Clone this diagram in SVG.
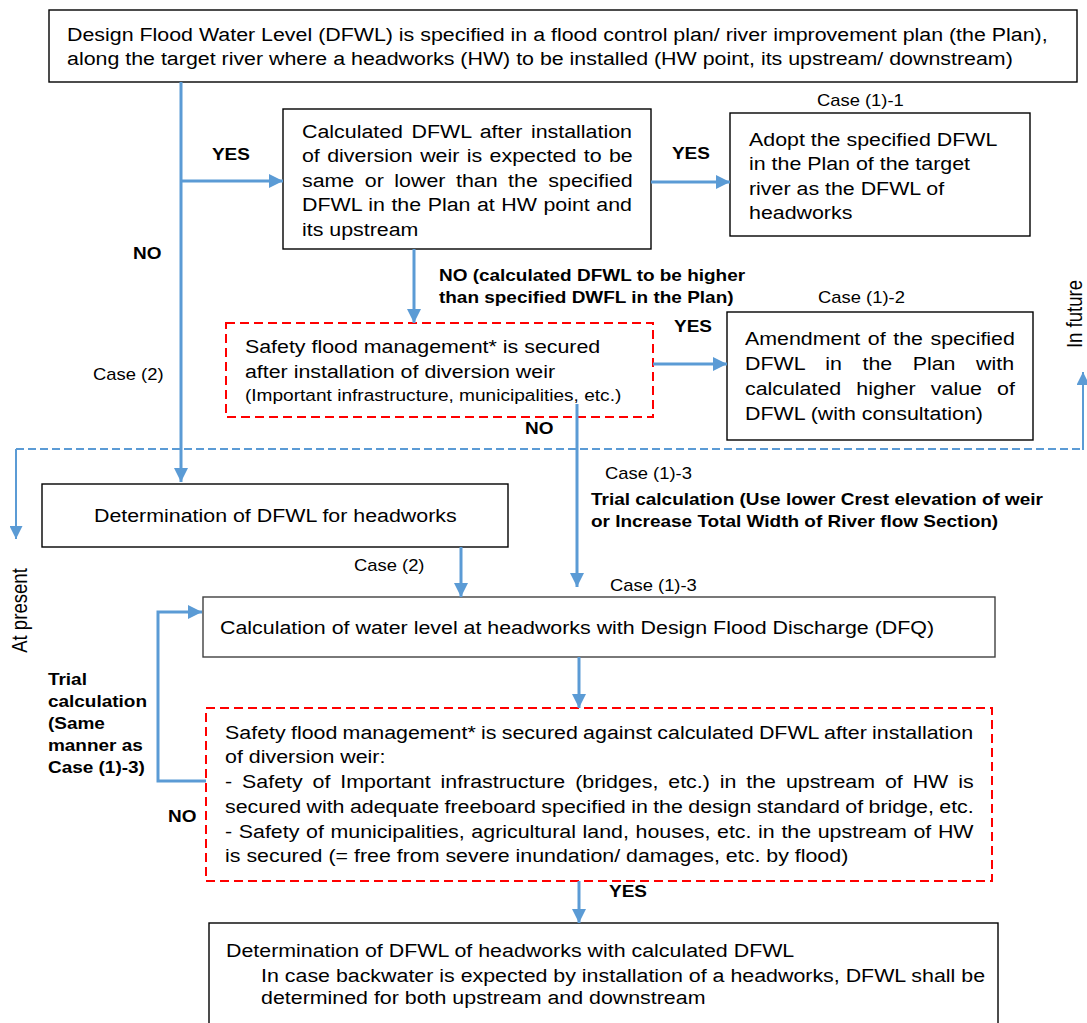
<svg xmlns="http://www.w3.org/2000/svg" width="1087" height="1023" viewBox="0 0 1087 1023">
<defs>
<style>
.box{fill:#fff;stroke:#000;stroke-width:1.4}
.rbox{fill:#fff;stroke:#FF0000;stroke-width:2;stroke-dasharray:9 5}
.t{font-family:"Liberation Sans",Arial,sans-serif;font-size:18.6px;fill:#000}
.s{font-family:"Liberation Sans",Arial,sans-serif;font-size:16.6px;fill:#000}
.c{font-family:"Liberation Sans",Arial,sans-serif;font-size:16px;fill:#000}
.b{font-family:"Liberation Sans",Arial,sans-serif;font-size:16.5px;font-weight:bold;fill:#000}
.ln{fill:none;stroke:#5B9BD5;stroke-width:3}
.ln2{fill:none;stroke:#5B9BD5;stroke-width:2}
.dash{fill:none;stroke:#5B9BD5;stroke-width:2;stroke-dasharray:8 4}
</style>
<marker id="ah" markerUnits="userSpaceOnUse" markerWidth="14" markerHeight="14" refX="14" refY="7" orient="auto" viewBox="0 0 14 14"><path d="M0,0 L14,7 L0,14 z" fill="#5B9BD5"/></marker>
<marker id="ah2" markerUnits="userSpaceOnUse" markerWidth="13" markerHeight="13" refX="13" refY="6.5" orient="auto" viewBox="0 0 13 13"><path d="M0,0 L13,6.5 L0,13 z" fill="#5B9BD5"/></marker>
</defs>
<rect x="0" y="0" width="1087" height="1023" fill="#fff"/>

<g id="n-top">
<rect class="box" x="49" y="10" width="1028" height="72"/>
<g transform="scale(1.15 1)">
<text class="t" x="58.3" y="41">Design Flood Water Level (DFWL) is specified in a flood control plan/ river improvement plan (the Plan),</text>
<text class="t" x="58.3" y="65">along the target river where a headworks (HW) to be installed (HW point, its upstream/ downstream)</text>
</g>
</g>

<g id="n-check1">
<rect class="box" x="283" y="109" width="368" height="140"/>
<g transform="scale(1.15 1)">
<text class="t" x="262.6" y="138" word-spacing="2.2">Calculated DFWL after installation</text>
<text class="t" x="262.6" y="162.5" word-spacing="1.27">of diversion weir is expected to be</text>
<text class="t" x="262.6" y="187" word-spacing="4">same or lower than the specified</text>
<text class="t" x="262.6" y="211.5" word-spacing="0.5">DFWL in the Plan at HW point and</text>
<text class="t" x="262.6" y="236">its upstream</text>
</g>
</g>

<g id="n-case11">
<rect class="box" x="730" y="113" width="300" height="123"/>
<g transform="scale(1.15 1)">
<text class="t" x="651.3" y="146">Adopt the specified DFWL</text>
<text class="t" x="651.3" y="170.5">in the Plan of the target</text>
<text class="t" x="651.3" y="195">river as the DFWL of</text>
<text class="t" x="651.3" y="219.5">headworks</text>
</g>
</g>

<g id="n-safety1">
<rect class="rbox" x="226" y="323" width="427" height="94"/>
<g transform="scale(1.15 1)">
<text class="t" x="213" y="353">Safety flood management* is secured</text>
<text class="t" x="213" y="378.5">after installation of diversion weir</text>
<text class="s" x="213" y="401">(Important infrastructure, municipalities, etc.)</text>
</g>
</g>

<g id="n-case12">
<rect class="box" x="727" y="312" width="306" height="128"/>
<g transform="scale(1.15 1)">
<text class="t" x="647.8" y="345.5" word-spacing="1.43">Amendment of the specified</text>
<text class="t" x="647.8" y="370.5" word-spacing="12.7">DFWL in the Plan with</text>
<text class="t" x="647.8" y="395.5" word-spacing="7.97">calculated higher value of</text>
<text class="t" x="647.8" y="420.5">DFWL (with consultation)</text>
</g>
</g>

<g id="n-determine">
<rect class="box" x="42" y="484" width="466" height="63"/>
<g transform="scale(1.15 1)">
<text class="t" x="81.7" y="522.5">Determination of DFWL for headworks</text>
</g>
</g>

<g id="n-calc">
<rect class="box" x="203" y="597" width="792" height="60" style="stroke:#404040"/>
<g transform="scale(1.15 1)">
<text class="t" x="191.3" y="634.5">Calculation of water level at headworks with Design Flood Discharge (DFQ)</text>
</g>
</g>

<g id="n-safety2">
<rect class="rbox" x="206" y="708" width="786" height="173"/>
<g transform="scale(1.15 1)">
<text class="t" x="195.7" y="739" word-spacing="-0.55">Safety flood management* is secured against calculated DFWL after installation</text>
<text class="t" x="195.7" y="763.5">of diversion weir:</text>
<text class="t" x="195.7" y="788.5" word-spacing="3.45">- Safety of Important infrastructure (bridges, etc.) in the upstream of HW is</text>
<text class="t" x="195.7" y="813.5" word-spacing="-0.47">secured with adequate freeboard specified in the design standard of bridge, etc.</text>
<text class="t" x="195.7" y="838" word-spacing="0.6">- Safety of municipalities, agricultural land, houses, etc. in the upstream of HW</text>
<text class="t" x="195.7" y="862.5">is secured (= free from severe inundation/ damages, etc. by flood)</text>
</g>
</g>

<g id="n-final">
<rect class="box" x="209" y="923" width="789" height="110"/>
<g transform="scale(1.15 1)">
<text class="t" x="196.5" y="957.5">Determination of DFWL of headworks with calculated DFWL</text>
<text class="t" x="227" y="982">In case backwater is expected by installation of a headworks, DFWL shall be</text>
<text class="t" x="227" y="1004">determined for both upstream and downstream</text>
</g>
</g>

<g id="connectors">
<path class="ln" d="M181,82 V482" marker-end="url(#ah)"/>
<path class="ln" d="M181,181 H283" marker-end="url(#ah)"/>
<path class="ln" d="M651,182 H730" marker-end="url(#ah)"/>
<path class="ln" d="M414,249 V323" marker-end="url(#ah)"/>
<path class="ln" d="M653,364 H727" marker-end="url(#ah)"/>
<path class="ln" d="M577,404 V587" marker-end="url(#ah)"/>
<path class="ln" d="M461,547 V597" marker-end="url(#ah)"/>
<path class="ln" d="M579,657 V708" marker-end="url(#ah)"/>
<path class="ln" d="M579,881 V923" marker-end="url(#ah)"/>
<path class="ln" d="M206,781 H158 V612 H202" marker-end="url(#ah)"/>
<path class="dash" d="M16,449 H1083"/>
<path class="ln2" d="M16,449 V539" marker-end="url(#ah2)"/>
<path class="ln2" d="M1083,450 V372" marker-end="url(#ah2)"/>
</g>

<g id="labels" transform="scale(1.15 1)">
<text class="b" x="184.3" y="160">YES</text>
<text class="b" x="115.7" y="259">NO</text>
<text class="c" x="80.9" y="380">Case (2)</text>
<text class="b" x="584.3" y="159">YES</text>
<text class="c" x="710.4" y="106">Case (1)-1</text>
<text class="b" x="381.7" y="281">NO (calculated DFWL to be higher</text>
<text class="b" x="381.7" y="303">than specified DWFL in the Plan)</text>
<text class="c" x="711.3" y="303">Case (1)-2</text>
<text class="b" x="586.1" y="332">YES</text>
<text class="b" x="456.5" y="434">NO</text>
<text class="c" x="526.1" y="479">Case (1)-3</text>
<text class="b" x="513.9" y="505">Trial calculation (Use lower Crest elevation of weir</text>
<text class="b" x="513.9" y="527">or Increase Total Width of River flow Section)</text>
<text class="c" x="307.8" y="571">Case (2)</text>
<text class="c" x="530.4" y="591">Case (1)-3</text>
<text class="b" x="41.7" y="685">Trial</text>
<text class="b" x="41.7" y="707.5">calculation</text>
<text class="b" x="41.7" y="729">(Same</text>
<text class="b" x="41.7" y="751">manner as</text>
<text class="b" x="41.7" y="773">Case (1)-3)</text>
<text class="b" x="146.1" y="822">NO</text>
<text class="b" x="529.6" y="897">YES</text>
<text class="t" x="23.5" y="610.5" text-anchor="middle" transform="rotate(-90 23.5 610.5)">At present</text>
<text class="t" x="940.5" y="314" text-anchor="middle" transform="rotate(-90 940.5 314)">In future</text>
</g>
</svg>
